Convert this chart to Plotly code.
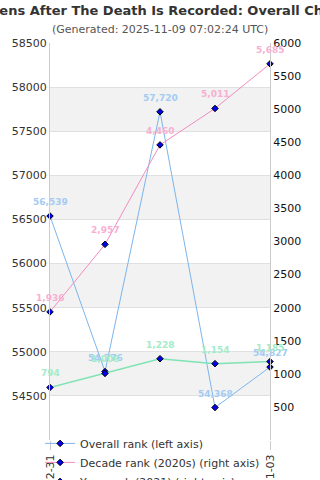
import plotly.graph_objects as go

dates = ["2021-12-31", "2022-12-31", "2023-12-31", "2024-12-31", "2025-11-03"]
overall_rank = [56539, 54776, 57720, 54368, 54827]
decade_rank = [1936, 2957, 4460, 5011, 5685]
year_rank = [794, 1006, 1228, 1154, 1185]

left_ticks = [54500, 55000, 55500, 56000, 56500, 57000, 57500, 58000, 58500]
right_ticks = [500, 1000, 1500, 2000, 2500, 3000, 3500, 4000, 4500, 5000, 5500, 6000]
bands = [(54500, 55000), (55500, 56000), (56500, 57000), (57500, 58000)]
shown_dates = [dates[0], dates[-1]]

FONT = "DejaVu Sans"
marker = dict(symbol="diamond", size=5, color="#0000ee", line=dict(color="#000000", width=1))

series = [
    ("Overall rank (left axis)", overall_rank, "y", "#7cb5ec", 1, "#a4cbf3"),
    ("Decade rank (2020s) (right axis)", decade_rank, "y2", "#f38cbf", 1, "#f6b0d2"),
    ("Year rank (2021) (right axis)", year_rank, "y2", "#7fe3b3", 1.5, "#a2ecc8"),
]

fig = go.Figure()
annotations = []
for name, vals, ax, col, w, lcol in series:
    fig.add_trace(go.Scatter(
        x=dates, y=vals, name=name, mode="lines+markers",
        line=dict(color=col, width=w), marker=marker, cliponaxis=False, yaxis=ax))
    for d, v in zip(dates, vals):
        annotations.append(dict(
            x=d, y=v, xref="x", yref=ax, text=f"<b>{v:,}</b>", showarrow=False,
            yshift=14, xanchor="center", yanchor="middle",
            font=dict(family=FONT, size=9, color=lcol)))

shapes = [dict(type="rect", xref="paper", yref="y", x0=0, x1=1, y0=a, y1=b,
               fillcolor="#f2f2f2", line=dict(width=0), layer="below") for a, b in bands]

annotations += [
    dict(text="<b>What Happens After The Death Is Recorded: Overall Chart History</b>",
         xref="paper", yref="paper", x=0.5, y=1.083, xanchor="center", yanchor="middle",
         showarrow=False, font=dict(family=FONT, size=13, color="#333333")),
    dict(text="(Generated: 2025-11-09 07:02:24 UTC)",
         xref="paper", yref="paper", x=0.5, y=1.033, xanchor="center", yanchor="middle",
         showarrow=False, font=dict(family=FONT, size=11, color="#555555")),
]

fig.update_layout(
    width=320, height=480,
    margin=dict(l=50, r=50, t=43, b=40, autoexpand=False),
    paper_bgcolor="white", plot_bgcolor="white",
    font=dict(family=FONT, color="#333333"),
    shapes=shapes,
    showlegend=True,
    legend=dict(x=-0.045, y=0.028, xanchor="left", yanchor="top", orientation="v",
                bgcolor="rgba(255,255,255,0)", font=dict(family=FONT, size=11, color="#333333"),
                itemwidth=30, tracegroupgap=0),
    xaxis=dict(type="category", range=[0, 4], showgrid=False, showline=False,
               tickvals=shown_dates, ticks="outside", ticklen=9,
               tickcolor="#cccccc", tickangle=-90, automargin=False,
               tickfont=dict(family=FONT, size=11, color="#333333"), zeroline=False),
    yaxis=dict(range=[54000, 58500], tickvals=left_ticks, tickformat="d", showgrid=True,
               gridcolor="#e0e0e0", gridwidth=1, showline=True, linecolor="#cccccc",
               tickfont=dict(family=FONT, size=11, color="#333333"), zeroline=False,
               ticks="", automargin=False),
    yaxis2=dict(range=[0, 6000], tickvals=right_ticks, tickformat="d", overlaying="y",
                side="right", showgrid=False, showline=True, linecolor="#cccccc",
                tickfont=dict(family=FONT, size=11, color="#111111"), zeroline=False,
                ticks="", automargin=False),
    annotations=annotations,
)

fig.write_html("out.html")
